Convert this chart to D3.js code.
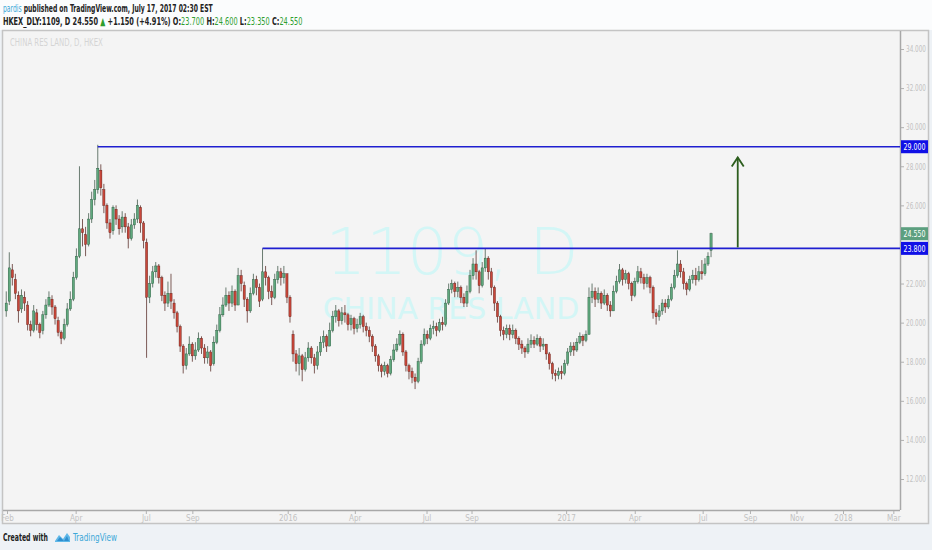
<!DOCTYPE html>
<html>
<head>
<meta charset="utf-8">
<script src="https://cdnjs.cloudflare.com/ajax/libs/d3/7.8.5/d3.min.js"></script>
<style>
  body { margin: 0; background: #eef2f6; }
  svg { display: block; }
  .hdr { font-family: "DejaVu Sans Condensed", "Liberation Sans Narrow", sans-serif; font-size: 11px; }
  .ax text { font-family: "DejaVu Sans Condensed", "Liberation Sans Narrow", sans-serif; font-size: 8.5px; fill: #c2c2c2; }
</style>
</head>
<body>
<svg id="chart" width="932" height="550"></svg>
<script>
var firstBar = "2014-12-31"
var barStep = 4

var opens = [
  20.6,21.1,22.7,22.2,21.4,20.7,21.3,20.9,19.9,19.6,
  20.5,19.9,19.6,20.4,20.9,21.2,20.8,20.1,19.5,19.2,
  19.9,20.7,21.2,22.3,23.4,24.8,24.5,24.0,25.3,26.3,
  26.8,27.8,26.8,26.0,25.1,24.7,25.8,25.3,24.9,25.4,
  24.9,24.3,25.0,25.3,25.9,25.1,24.1,21.3,22.0,22.6,
  22.9,22.3,21.4,21.0,21.5,21.0,20.5,19.8,18.8,17.8,
  18.4,18.9,18.3,18.6,19.2,18.7,18.2,18.5,17.9,19.0,
  19.6,20.4,20.9,21.4,21.0,21.6,20.9,22.4,21.9,21.2,
  20.6,21.5,22.2,21.8,21.2,22.6,22.3,21.6,21.3,22.2,
  22.6,22.3,22.5,21.3,19.4,18.4,17.9,18.3,17.6,18.2,
  18.7,18.2,17.8,18.5,19.0,19.3,18.8,19.6,20.3,20.6,
  20.1,20.5,20.4,19.9,20.2,19.7,19.9,20.3,19.8,19.6,
  19.3,18.8,18.3,17.8,17.5,17.8,17.4,18.1,18.6,18.9,
  19.4,18.5,17.8,17.5,17.2,17.0,18.0,18.9,19.4,19.2,
  19.7,19.8,19.6,20.0,19.9,21.0,21.7,22.0,21.6,21.8,
  21.3,21.0,21.6,22.4,23.0,22.6,21.9,22.8,23.3,22.6,
  21.8,21.0,20.3,19.6,19.4,19.7,19.4,19.6,19.2,18.9,
  18.7,18.5,18.9,19.1,18.9,19.2,18.8,18.9,18.4,17.9,
  17.4,17.3,17.5,17.4,17.9,18.5,18.8,18.6,19.0,19.3,
  19.1,19.4,21.3,21.6,21.2,21.5,21.0,21.4,20.9,20.6,
  21.6,22.1,22.7,22.2,22.5,22.0,21.4,22.1,22.6,22.3,
  22.0,22.3,21.8,20.5,20.3,20.6,21.0,20.8,21.2,21.8,
  22.4,23.0,22.6,22.0,21.7,22.2,22.4,22.2,22.6,22.5,
  23.0,23.70]

var highs = [
  21.6,23.6,23.0,22.5,21.6,21.7,21.6,21.1,20.1,20.9,
  20.7,20.0,20.6,21.2,21.6,21.4,20.9,20.3,19.6,20.2,
  21.0,21.6,22.6,23.8,28.0,25.3,24.9,25.6,26.7,27.3,
  29.1,28.1,27.1,26.1,25.3,26.0,26.0,25.5,25.7,25.6,
  25.1,25.3,25.6,26.3,26.0,25.2,24.3,22.4,22.9,23.1,
  23.0,22.4,21.6,22.1,22.5,21.2,20.6,19.9,18.9,18.7,
  19.3,19.0,19.0,19.5,19.3,18.9,18.8,18.6,19.3,19.9,
  20.8,21.3,21.8,21.6,21.9,21.7,22.8,22.7,22.1,21.3,
  21.8,22.5,22.4,22.0,23.8,22.9,22.4,21.9,22.5,22.9,
  22.8,22.9,22.5,21.4,19.6,18.6,18.7,18.4,18.5,19.0,
  18.8,18.4,18.8,19.3,19.6,19.4,20.0,20.6,20.9,20.7,
  20.8,20.9,20.5,20.4,20.3,20.2,20.5,20.4,20.0,19.8,
  19.4,18.9,18.4,17.9,18.0,17.9,18.3,18.9,19.2,19.6,
  19.5,18.6,17.9,17.7,17.4,18.2,19.1,19.7,19.6,19.9,
  20.1,20.0,20.2,20.3,21.2,22.0,22.2,22.1,22.1,21.9,
  21.5,21.9,22.7,23.3,23.7,22.7,23.1,23.8,23.4,22.8,
  21.9,21.1,20.4,19.8,19.9,19.9,19.9,19.7,19.3,19.1,
  18.8,19.2,19.4,19.3,19.4,19.3,19.2,18.9,18.5,18.0,
  17.6,17.7,17.8,18.1,18.7,19.0,19.0,19.2,19.5,19.4,
  19.6,21.8,22.0,21.8,21.8,21.6,21.7,21.5,21.1,21.9,
  22.4,23.0,22.8,22.7,22.6,22.1,22.3,22.9,22.8,22.5,
  22.5,22.4,21.9,20.7,20.9,21.2,21.2,21.4,22.0,22.7,
  23.7,23.2,22.8,22.1,22.4,22.7,22.8,22.9,23.2,23.3,
  23.6,24.60]

var lows = [
  20.3,20.9,21.9,21.2,20.0,20.5,20.6,19.6,19.3,19.5,
  19.6,19.2,19.4,20.2,20.8,20.4,19.9,19.3,18.9,19.1,
  19.8,20.6,21.1,22.2,23.3,23.9,23.4,23.9,25.1,26.0,
  26.6,26.5,25.6,24.8,24.3,24.5,25.0,24.5,24.6,24.6,
  23.8,24.2,24.8,25.1,24.6,23.8,18.2,21.0,21.8,22.3,
  22.0,21.1,20.6,20.8,20.7,20.2,19.5,18.5,17.4,17.6,
  18.3,18.0,18.1,18.5,18.4,17.9,17.9,17.5,17.8,18.9,
  19.5,20.3,20.8,20.6,20.8,20.6,20.9,21.6,20.8,20.0,
  20.5,21.4,21.4,20.8,21.1,21.9,21.2,20.9,21.2,22.0,
  21.9,22.0,21.0,20.0,18.0,17.5,17.3,17.0,17.5,18.0,
  17.9,17.4,17.6,18.3,18.7,18.5,18.8,19.5,20.0,19.8,
  19.9,20.0,19.6,19.6,19.4,19.5,19.7,19.5,19.3,19.0,
  18.5,18.0,17.5,17.2,17.3,17.2,17.3,18.0,18.5,18.8,
  18.3,17.5,17.1,16.9,16.6,16.9,17.9,18.8,18.9,19.1,
  19.4,19.3,19.5,19.6,19.8,20.9,21.5,21.3,21.3,21.0,
  20.8,20.8,21.5,22.2,22.2,21.5,21.8,22.6,22.2,21.4,
  20.6,20.0,19.3,19.1,19.2,19.1,19.2,18.9,18.6,18.4,
  18.2,18.4,18.7,18.7,18.8,18.5,18.6,18.1,17.6,17.1,
  17.0,17.1,17.1,17.3,17.8,18.3,18.3,18.5,18.9,18.8,
  19.0,19.4,21.0,20.8,21.0,20.7,20.9,20.6,20.3,20.6,
  21.5,22.0,21.9,22.0,21.7,21.1,21.3,22.0,22.0,21.7,
  21.8,21.5,20.2,19.9,20.1,20.4,20.5,20.7,21.1,21.7,
  22.3,22.3,21.7,21.4,21.6,22.0,21.9,22.1,22.2,22.4,
  22.9,23.35]

var closes = [
  21.0,22.8,22.3,21.5,20.6,21.4,21.0,19.9,19.6,20.6,
  19.9,19.5,20.4,20.9,21.3,20.8,20.2,19.5,19.2,19.9,
  20.7,21.2,22.3,23.4,24.8,24.6,24.0,25.3,26.3,26.8,
  27.9,26.9,26.0,25.1,24.6,25.9,25.3,24.8,25.4,24.9,
  24.3,25.0,25.3,26.0,25.1,24.2,21.3,22.0,22.6,22.9,
  22.3,21.4,21.0,21.5,21.1,20.5,19.8,18.8,17.8,18.4,
  18.9,18.3,18.6,19.2,18.7,18.2,18.5,17.8,19.0,19.6,
  20.4,20.9,21.4,21.0,21.6,20.9,22.4,22.0,21.2,20.6,
  21.5,22.2,21.8,21.1,22.6,22.3,21.6,21.3,22.2,22.6,
  22.3,22.5,21.3,20.3,18.4,17.9,18.3,17.6,18.2,18.7,
  18.2,17.8,18.5,19.0,19.3,18.8,19.6,20.3,20.6,20.1,
  20.5,20.4,19.9,20.2,19.7,19.9,20.3,19.8,19.6,19.3,
  18.8,18.3,17.8,17.5,17.8,17.4,18.1,18.6,18.9,19.4,
  18.5,17.8,17.5,17.2,17.0,18.0,18.9,19.4,19.2,19.7,
  19.8,19.6,20.0,19.9,21.0,21.7,22.0,21.6,21.8,21.3,
  21.0,21.6,22.4,23.0,22.6,21.9,22.8,23.3,22.6,21.8,
  21.0,20.3,19.6,19.4,19.7,19.4,19.6,19.2,18.9,18.7,
  18.5,18.9,19.1,18.9,19.2,18.8,18.9,18.4,17.9,17.4,
  17.3,17.5,17.4,17.9,18.5,18.8,18.6,19.0,19.3,19.1,
  19.4,21.3,21.6,21.2,21.5,21.0,21.4,20.9,20.6,21.6,
  22.1,22.7,22.2,22.5,22.0,21.4,22.1,22.6,22.3,22.0,
  22.3,21.8,20.5,20.3,20.6,21.0,20.8,21.2,21.8,22.4,
  23.0,22.6,22.0,21.7,22.2,22.4,22.2,22.6,22.5,23.0,
  23.4,24.55]

// 24.000 sits under the 23.800 tag in the original, so it is left out
var yTicks = [12,14,16,18,20,22,26,28,30,32,34]
var xTickDates = ["2015-01-01","2015-04-01","2015-07-02","2015-09-01","2016-01-04","2016-04-01","2016-07-04","2016-09-01","2017-01-03","2017-04-03","2017-07-01","2017-09-01","2017-11-01","2018-01-01","2018-03-08"]
var xTickLabels = ["Feb","Apr","Jul","Sep","2016","Apr","Jul","Sep","2017","Apr","Jul","Sep","Nov","2018","Mar"]

// drawn levels: [price, start bar]
var levels = [[29.0, 30], [23.8, 84]]
var lastPrice = 24.55
var arrowFrom = ["2017-08-16", 23.85]
var arrowTo = ["2017-08-16", 28.45]

var parse = d3.timeParse("%Y-%m-%d")
var start = parse(firstBar)
var bars = closes.map((c, i) => ({
  date: d3.timeDay.offset(start, i * barStep),
  o: opens[i], h: highs[i], l: lows[i], c: c
}))

var svg = d3.select("#chart")

var plot = {left: 3, right: 900, top: 31, bottom: 510}

var x = d3.scaleTime()
  .domain([parse("2015-01-01"), parse("2018-01-01")])
  .range([7, 843])
var y = d3.scaleLinear()
  .domain([12, 34])
  .range([479, 49])

// squeeze a text horizontally so it spans `width` (the original uses a narrow font)
function fit(g, width) {
  var len = g.select("text").node().getComputedTextLength()
  g.select("text").attr("transform", `scale(${width / len},1)`)
}

// backgrounds
svg.append("rect").attr("x", 0).attr("y", 0).attr("width", 932).attr("height", 30).attr("fill", "#fbfcfd")
svg.append("rect").attr("x", 0).attr("y", 525).attr("width", 932).attr("height", 25).attr("fill", "#eef2f6")
svg.append("rect").attr("x", 2.5).attr("y", 30.5).attr("width", 926).attr("height", 493)
  .attr("fill", "#f4f4f4").attr("stroke", "#c4c4c4").attr("stroke-width", 1.5)

// header
var g1 = svg.append("g").attr("transform", "translate(3,12)")
var h1 = g1.append("text").attr("class", "hdr")
h1.append("tspan").attr("fill", "#3ca8d8").text("pardis")
h1.append("tspan").attr("fill", "#222").attr("font-weight", "bold").text(" published on TradingView.com, July 17, 2017 02:30 EST")
fit(g1, 210)

var g2 = svg.append("g").attr("transform", "translate(3,25)")
var h2 = g2.append("text").attr("class", "hdr").attr("font-weight", "bold")
h2.append("tspan").attr("fill", "#222").text("HKEX_DLY:1109, D  24.550 ")
h2.append("tspan").attr("fill", "#2e9e2e").text("\u25B2")
h2.append("tspan").attr("fill", "#222").text(" +1.150 (+4.91%) O:")
h2.append("tspan").attr("fill", "#2e9e2e").attr("font-weight", "normal").text("23.700")
h2.append("tspan").attr("fill", "#222").text(" H:")
h2.append("tspan").attr("fill", "#2e9e2e").attr("font-weight", "normal").text("24.600")
h2.append("tspan").attr("fill", "#222").text(" L:")
h2.append("tspan").attr("fill", "#2e9e2e").attr("font-weight", "normal").text("23.350")
h2.append("tspan").attr("fill", "#222").text(" C:")
h2.append("tspan").attr("fill", "#2e9e2e").attr("font-weight", "normal").text("24.550")
fit(g2, 300)

var g3 = svg.append("g").attr("transform", "translate(10,46)")
g3.append("text").attr("class", "hdr").attr("fill", "#d4d4d4").style("font-size", "10px").text("CHINA RES LAND, D, HKEX")
fit(g3, 93)

// watermark
svg.append("text").attr("x", 452).attr("y", 274).attr("text-anchor", "middle")
  .attr("font-family", "DejaVu Sans, sans-serif").attr("font-size", 64).attr("font-weight", 200)
  .attr("fill", "#d3f6f6").text("1109, D")
svg.append("text").attr("x", 451).attr("y", 319).attr("text-anchor", "middle")
  .attr("font-family", "DejaVu Sans, sans-serif").attr("font-size", 30)
  .attr("fill", "#d3f6f6").text("CHINA RES LAND")

// axis separators
svg.append("line").attr("x1", plot.right + 0.5).attr("x2", plot.right + 0.5).attr("y1", plot.top).attr("y2", plot.bottom)
  .attr("stroke", "#a8a8a8").attr("stroke-width", 1.5)
svg.append("line").attr("x1", plot.left).attr("x2", plot.right).attr("y1", plot.bottom + 0.5).attr("y2", plot.bottom + 0.5)
  .attr("stroke", "#a8a8a8").attr("stroke-width", 1.5)

// y axis
var yAxis = svg.append("g").attr("class", "ax")
  .attr("transform", `translate(${plot.right + 1},0)`)
  .call(d3.axisRight(y).tickValues(yTicks).tickFormat(d3.format(".3f")).tickSize(3).tickPadding(2))
yAxis.select(".domain").remove()
yAxis.selectAll("line").attr("stroke", "#b0b0b0")
yAxis.selectAll("text").attr("textLength", 20).attr("lengthAdjust", "spacingAndGlyphs")

// x axis
var xAxis = svg.append("g").attr("class", "ax")
  .attr("transform", `translate(0,${plot.bottom + 1})`)
  .call(d3.axisBottom(x).tickValues(xTickDates.map(parse))
    .tickFormat((d, i) => xTickLabels[i]).tickSize(3).tickPadding(1))
xAxis.select(".domain").remove()
xAxis.selectAll("line").attr("stroke", "#b0b0b0")
xAxis.selectAll("text").style("font-size", "8px")

// candles
svg.append("clipPath").attr("id", "clip").append("rect")
  .attr("x", plot.left).attr("y", plot.top).attr("width", plot.right - plot.left).attr("height", plot.bottom - plot.top)
var cg = svg.append("g").attr("clip-path", "url(#clip)")

var upBody = "#5fa87d", upEdge = "#225437", dnBody = "#c8473a", dnEdge = "#5b1a13"
var bw = 2.2

var candle = cg.selectAll("g.c").data(bars).enter().append("g").attr("class", "c")
candle.append("line")
  .attr("x1", d => x(d.date)).attr("x2", d => x(d.date))
  .attr("y1", d => y(d.h)).attr("y2", d => y(d.l))
  .attr("stroke", d => d.c >= d.o ? "#5a6e62" : "#6e4a45").attr("stroke-width", 0.9)
candle.append("rect")
  .attr("x", d => x(d.date) - bw / 2)
  .attr("width", bw)
  .attr("y", d => y(Math.max(d.o, d.c)))
  .attr("height", d => Math.max(1, Math.abs(y(d.o) - y(d.c))))
  .attr("fill", d => d.c >= d.o ? upBody : dnBody)
  .attr("stroke", d => d.c >= d.o ? upEdge : dnEdge).attr("stroke-width", 0.4)

// horizontal levels
cg.selectAll("line.lvl").data(levels).enter().append("line").attr("class", "lvl")
  .attr("x1", d => x(bars[d[1]].date)).attr("x2", plot.right)
  .attr("y1", d => y(d[0])).attr("y2", d => y(d[0]))
  .attr("stroke", "#1f1fd0").attr("stroke-width", 1.6)

// arrow
var ax0 = x(parse(arrowFrom[0])), ay0 = y(arrowFrom[1]), ay1 = y(arrowTo[1])
svg.append("line").attr("x1", ax0).attr("x2", ax0).attr("y1", ay0).attr("y2", ay1)
  .attr("stroke", "#2d5e1e").attr("stroke-width", 1.8)
svg.append("path")
  .attr("d", `M${ax0 - 6},${ay1 + 9} L${ax0},${ay1} L${ax0 + 6},${ay1 + 9}`)
  .attr("fill", "none").attr("stroke", "#2d5e1e").attr("stroke-width", 1.8)

// price labels on the right scale
var tags = [[lastPrice, "#5c9f7f"], [levels[0][0], "#1010e6"], [levels[1][0], "#1010e6"]]
var tg = svg.selectAll("g.tag").data(tags).enter().append("g").attr("class", "tag")
tg.append("rect").attr("x", plot.right + 1).attr("y", d => y(d[0]) - 6.5)
  .attr("width", 27).attr("height", 13).attr("fill", d => d[1])
tg.append("text").attr("x", plot.right + 3.5).attr("y", d => y(d[0]) + 3.5)
  .attr("font-family", "DejaVu Sans Condensed, sans-serif").attr("font-size", 9.5)
  .attr("textLength", 22).attr("lengthAdjust", "spacingAndGlyphs")
  .attr("fill", "#fff").text(d => d3.format(".3f")(d[0]))

// footer
var g4 = svg.append("g").attr("transform", "translate(3,541)")
g4.append("text").attr("class", "hdr").attr("fill", "#222").attr("font-weight", "bold").text("Created with")
fit(g4, 45)
var logo = svg.append("g").attr("transform", "translate(55,532)")
logo.append("path").attr("d", "M0,9 L4,3 L8,7 L12,1 L15,5 L15,10 L0,10 Z").attr("fill", "#5fb8e8")
logo.append("path").attr("d", "M2,9 L5,5 L9,9 L12,4 L14,9 Z").attr("fill", "#2f8fcf")
var g5 = svg.append("g").attr("transform", "translate(73,541)")
g5.append("text").attr("class", "hdr").attr("fill", "#3ca8d8").text("TradingView")
fit(g5, 44)
</script>
</body>
</html>
